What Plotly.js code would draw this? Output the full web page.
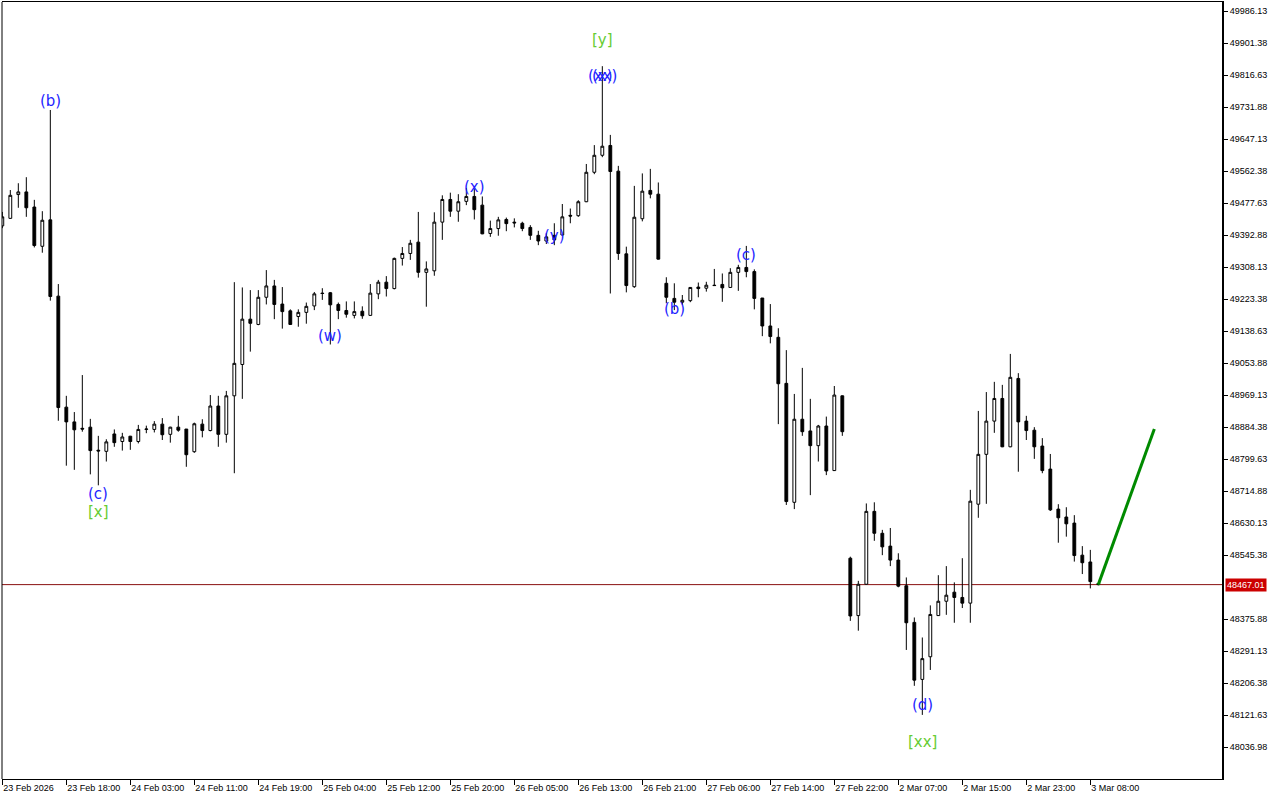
<!DOCTYPE html>
<html><head><meta charset="utf-8">
<script src="https://cdn.plot.ly/plotly-3.0.1.min.js"></script>
<style>html,body{margin:0;padding:0;background:#fff}#chart{width:1280px;height:800px}</style>
</head><body><div id="chart"></div>
<script>
const openP = [49417,49437,49500,49507,49467,49363,49433,49231,48937,48898,48881,48884,48823,48820,48866,48846,48860,48846,48878,48878,
48892,48865,48884,48879,48819,48892,48875,48940,48865,48967,49050,49170,49156,49228,49258,49210,49192,49177,49188,49205,
49239,49240,49209,49193,49180,49191,49180,49237,49268,49251,49331,49344,49374,49294,49298,49427,49487,49456,49482,49495,
49472,49397,49410,49434,49427,49424,49413,49392,49377,49392,49393,49445,49444,49481,49559,49604,49630,49562,49343,49256,
49436,49511,49501,49265,49225,49215,49219,49255,49252,49260,49262,49254,49294,49307,49296,49226,49152,49122,49000,48685,
48905,48874,48835,48887,48769,48967,48537,48385,48468,48661,48603,48569,48532,48464,48367,48216,48276,48385,48423,48447,
48433,48418,48680,48812,48900,48960,48832,49013,48900,48876,48834,48773,48667,48646,48630,48545,48527,48470];
const highP = [49454,49512,49530,49546,49486,49456,49724,49263,48967,48924,49022,48906,48861,48852,48878,48869,48861,48890,48888,48900,
48908,48885,48914,48879,48896,48905,48969,48967,48980,49268,49254,49247,49247,49300,49274,49255,49196,49196,49214,49242,
49252,49242,49214,49217,49217,49204,49263,49274,49284,49333,49361,49380,49454,49323,49453,49498,49505,49501,49517,49515,
49495,49431,49441,49439,49437,49428,49419,49404,49398,49424,49475,49463,49485,49581,49631,49840,49658,49576,49362,49523,
49556,49568,49532,49281,49265,49234,49255,49267,49269,49303,49291,49305,49314,49364,49302,49226,49210,49146,49088,48972,
49041,48959,48890,48912,48993,48968,48541,48477,48682,48685,48612,48617,48550,48486,48380,48327,48412,48492,48516,48473,
48537,48718,48927,48977,49004,48996,49078,49027,48914,48884,48855,48813,48680,48672,48651,48569,48559,48472];
const lowP = [49411,49436,49465,49441,49360,49346,49219,48901,48782,48771,48872,48759,48730,48793,48832,48822,48824,48841,48868,48870,
48850,48843,48872,48779,48816,48857,48873,48832,48843,48762,48959,49084,49154,49209,49170,49145,49155,49150,49158,49194,
49221,49103,49170,49174,49172,49171,49179,49223,49230,49249,49312,49327,49280,49203,49285,49380,49441,49428,49472,49434,
49395,49388,49391,49403,49413,49403,49380,49366,49369,49366,49390,49424,49441,49480,49554,49599,49238,49327,49241,49253,
49429,49490,49328,49212,49194,49208,49215,49228,49243,49258,49216,49253,49245,49281,49196,49125,49106,48892,48678,48667,
48861,48704,48793,48757,48768,48861,48371,48345,48467,48583,48545,48516,48460,48294,48199,48122,48241,48384,48387,48366,
48405,48366,48644,48681,48869,48831,48831,48766,48850,48800,48762,48662,48578,48594,48528,48495,48457,48465];
const closeP = [49441,49498,49507,49465,49365,49432,49230,48936,48898,48877,48879,48822,48821,48845,48843,48858,48846,48878,48879,48892,
48864,48884,48876,48811,48893,48875,48940,48865,48967,49053,49170,49159,49228,49258,49209,49190,49156,49188,49204,49237,
49238,49208,49193,49183,49190,49179,49239,49268,49251,49331,49344,49371,49294,49303,49427,49487,49456,49481,49495,49460,
49396,49410,49433,49423,49425,49410,49392,49377,49388,49380,49441,49443,49481,49559,49604,49628,49561,49344,49259,49440,
49509,49501,49329,49228,49215,49220,49254,49251,49260,49259,49253,49294,49307,49296,49225,49152,49124,48999,48687,48905,
48872,48835,48887,48768,48969,48872,48384,48468,48661,48603,48567,48532,48463,48366,48214,48271,48388,48423,48439,48433,
48418,48688,48812,48900,48960,48832,49016,48898,48875,48832,48769,48665,48644,48628,48544,48525,48475,48467.01];
const barIndex = openP.map((_, i) => i);

const timeTickIdx = [0,8,16,24,32,40,48,56,64,72,80,88,96,104,112,120,128,136];
const timeTickText = ["23 Feb 2026","23 Feb 18:00","24 Feb 03:00","24 Feb 11:00","24 Feb 19:00","25 Feb 04:00",
"25 Feb 12:00","25 Feb 20:00","26 Feb 05:00","26 Feb 13:00","26 Feb 21:00","27 Feb 06:00","27 Feb 14:00",
"27 Feb 22:00","2 Mar 07:00","2 Mar 15:00","2 Mar 23:00","3 Mar 08:00"];

const priceTickVals = [49986.13,49901.38,49816.63,49731.88,49647.13,49562.38,49477.63,49392.88,49308.13,49223.38,
49138.63,49053.88,48969.13,48884.38,48799.63,48714.88,48630.13,48545.38,48375.88,48291.13,48206.38,48121.63,48036.88];
const priceTickText = ["49986.13","49901.38","49816.63","49731.88","49647.13","49562.38","49477.63","49392.88","49308.13","49223.38",
"49138.63","49053.88","48969.13","48884.38","48799.63","48714.88","48630.13","48545.38","48375.88","48291.13","48206.38","48121.63","48036.98"];

const lastPrice = 48467.01;
const projX = [137, 144];
const projY = [48467.01, 48879];

const waveText  = ["(b)","(c)","[x]","(w)","(x)","(y)","(xx)","(x)","[y]","(b)","(c)","(d)","[xx]"];
const waveIdx   = [6,12,12,41,59,69,75,75,75,84,93,115,115];
const wavePrice = [49748,48707,48659,49125,49520,49390,49814,49814,49909,49197,49340,48148,48050];
const waveDegree= ["minor","minor","major","minor","minor","minor","minor","minor","major","minor","minor","minor","major"];

const degreeColor = {minor:'#1f1fff', major:'#66cc33'};

const traces = [
  {
    type:'candlestick', x:barIndex, open:openP, high:highP, low:lowP, close:closeP,
    whiskerwidth:0,
    increasing:{line:{color:'#000', width:1}, fillcolor:'#ffffff'},
    decreasing:{line:{color:'#000', width:1}, fillcolor:'#000000'},
    hoverinfo:'skip', showlegend:false
  },
  {
    type:'scatter', mode:'lines', x:projX, y:projY,
    line:{color:'#008a00', width:3}, hoverinfo:'skip', showlegend:false
  }
];

const annotations = waveText.map((t, k) => ({
  x: waveIdx[k], y: wavePrice[k], xref:'x', yref:'y', text:t, showarrow:false,
  xanchor:'center', yanchor:'middle',
  font:{family:'DejaVu Sans, Verdana, sans-serif', size:15, color:degreeColor[waveDegree[k]]}
}));
annotations.push({
  xref:'paper', x:1, xanchor:'left', xshift:3, yref:'y', y:lastPrice, yanchor:'middle',
  text:lastPrice.toFixed(2), showarrow:false, bgcolor:'#cc0000', borderpad:1,
  font:{family:'Liberation Sans, Arial, sans-serif', size:9, color:'#ffffff'}
});

const layout = {
  width:1280, height:800,
  margin:{l:2, r:58, t:2, b:21, pad:0},
  paper_bgcolor:'#ffffff', plot_bgcolor:'#ffffff',
  showlegend:false, hovermode:false,
  boxgap:0.5,
  font:{family:'Liberation Sans, Arial, sans-serif', size:9, color:'#000'},
  xaxis:{
    type:'linear', range:[-0.04, 152.46], rangeslider:{visible:false},
    showgrid:false, zeroline:false,
    tickmode:'array', tickvals:timeTickIdx, ticktext:timeTickText,
    ticks:'outside', ticklen:5, tickcolor:'#000', tickwidth:1,
    ticklabelposition:'outside right',
    showline:true, linecolor:'#000', linewidth:1, mirror:true,
    tickfont:{family:'Liberation Sans, Arial, sans-serif', size:9, color:'#000'}
  },
  yaxis:{
    side:'right', range:[47952.24, 50009.96],
    showgrid:false, zeroline:false,
    tickmode:'array', tickvals:priceTickVals, ticktext:priceTickText,
    ticks:'outside', ticklen:4, tickcolor:'#000', tickwidth:1,
    showline:true, linecolor:'#000', linewidth:2, mirror:false,
    tickfont:{family:'Liberation Sans, Arial, sans-serif', size:9, color:'#000'}
  },
  shapes:[
    {type:'line', xref:'paper', x0:0, x1:1, yref:'y', y0:lastPrice, y1:lastPrice, line:{color:'#8a1010', width:1}, layer:'below'},
    {type:'line', xref:'paper', x0:0, x1:0, yref:'paper', y0:0, y1:1, line:{color:'#000', width:1}}
  ],
  annotations:annotations
};

Plotly.newPlot('chart', traces, layout, {staticPlot:true, displayModeBar:false});
</script>
</body></html>
